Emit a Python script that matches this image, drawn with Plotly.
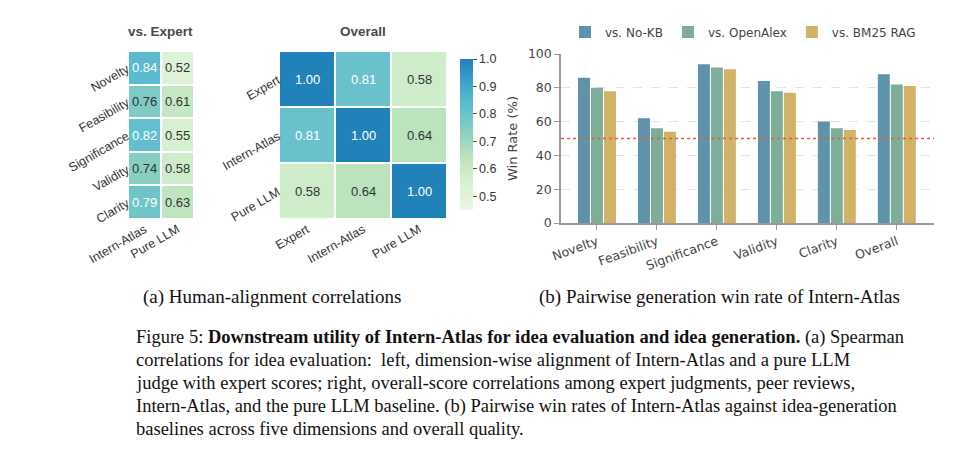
import plotly.graph_objects as go

# ---- data ----
dims = ["Novelty", "Feasibility", "Significance", "Validity", "Clarity"]
judges = ["Intern-Atlas", "Pure LLM"]
atlas_vs_expert = [0.84, 0.76, 0.82, 0.74, 0.79]
llm_vs_expert = [0.52, 0.61, 0.55, 0.58, 0.63]

raters = ["Expert", "Intern-Atlas", "Pure LLM"]
overall_corr = [
    [1.00, 0.81, 0.58],
    [0.81, 1.00, 0.64],
    [0.58, 0.64, 1.00],
]

bar_cats = ["Novelty", "Feasibility", "Significance", "Validity", "Clarity", "Overall"]
win_nokb = [86, 62, 94, 84, 60, 88]
win_openalex = [80, 56, 92, 78, 56, 82]
win_bm25 = [78, 54, 91, 77, 55, 81]
tie_level = 50

# page body has an 8px margin, so the figure is a bit smaller and offset
OFF = 8
W, H = 977 - OFF, 450 - OFF

def px_x(p):
    return (p - OFF) / W

def px_y(p):
    return 1 - (p - OFF) / H

sans = "Liberation Sans, Arial, sans-serif"
mpl = "DejaVu Sans, sans-serif"
serif = "Liberation Serif, Times New Roman, serif"

scale = [
    [0.0, "#ebf7e6"],
    [0.2, "#d5efce"],
    [0.36, "#b8e2bc"],
    [0.55, "#80ccc3"],
    [0.7, "#5dbccf"],
    [0.85, "#3ca2c9"],
    [1.0, "#2181b9"],
]

fig = go.Figure()

# left heatmap: dimension-wise alignment with experts
z_left = [[a, b] for a, b in zip(atlas_vs_expert, llm_vs_expert)]
fig.add_trace(go.Heatmap(z=z_left, x=judges, y=dims, coloraxis="coloraxis",
                         xgap=2, ygap=2, hoverinfo="skip", xaxis="x", yaxis="y"))

# overall correlation matrix
fig.add_trace(go.Heatmap(z=overall_corr, x=raters, y=raters, coloraxis="coloraxis",
                         xgap=2, ygap=2, hoverinfo="skip", xaxis="x2", yaxis="y2"))

# cell value labels
for i, d in enumerate(dims):
    for j, jn in enumerate(judges):
        v = z_left[i][j]
        fig.add_annotation(x=jn, y=d, xref="x", yref="y", text=f"{v:.2f}", showarrow=False,
                           font=dict(family=sans, size=13, color="white" if v >= 0.78 else "#333333"))
for i, r in enumerate(raters):
    for j, c in enumerate(raters):
        v = overall_corr[i][j]
        fig.add_annotation(x=c, y=r, xref="x2", yref="y2", text=f"{v:.2f}", showarrow=False,
                           font=dict(family=sans, size=13, color="white" if v >= 0.78 else "#333333"))

# win-rate bars
bar_colors = ["#5f93ab", "#7eae98", "#d2b267"]
for name, vals, col in zip(["vs. No-KB", "vs. OpenAlex", "vs. BM25 RAG"],
                           [win_nokb, win_openalex, win_bm25], bar_colors):
    fig.add_trace(go.Bar(x=bar_cats, y=vals, name=name, marker_color=col,
                         marker_line_width=0, xaxis="x3", yaxis="y3"))

fig.add_shape(type="line", xref="x3 domain", yref="y3", x0=0, x1=1, y0=tie_level, y1=tie_level,
              line=dict(color="#d9603b", width=1.6, dash="dot"))

hm_tick = dict(family=sans, size=12.5, color="#333333")
fig.update_layout(
    width=W, height=H,
    margin=dict(l=0, r=0, t=0, b=0, autoexpand=False),
    paper_bgcolor="white", plot_bgcolor="white",
    showlegend=True,
    barmode="group", bargap=0.35, bargroupgap=0.08,
    coloraxis=dict(
        colorscale=scale, cmin=0.45, cmax=1.0,
        colorbar=dict(x=px_x(450), xanchor="left", y=px_y(134.5), yanchor="middle",
                      len=171, lenmode="pixels", thickness=13, outlinewidth=0,
                      tickvals=[0.5, 0.6, 0.7, 0.8, 0.9, 1.0], ticktext=["0.5", "0.6", "0.7", "0.8", "0.9", "1.0"],
                      ticks="outside", ticklen=4, tickcolor="#555555",
                      tickfont=hm_tick),
    ),
    xaxis=dict(domain=[px_x(128), px_x(194)], anchor="y", tickangle=-30, tickfont=hm_tick,
               showgrid=False, zeroline=False, ticks="", automargin=False),
    yaxis=dict(domain=[px_y(219), px_y(51)], anchor="x", autorange="reversed", tickangle=-30,
               tickfont=hm_tick, showgrid=False, zeroline=False, ticks="", automargin=False),
    xaxis2=dict(domain=[px_x(279), px_x(447)], anchor="y2", tickangle=-30, tickfont=hm_tick,
                showgrid=False, zeroline=False, ticks="", automargin=False),
    yaxis2=dict(domain=[px_y(219), px_y(51)], anchor="x2", autorange="reversed", tickangle=-30,
                tickfont=hm_tick, showgrid=False, zeroline=False, ticks="", automargin=False),
    xaxis3=dict(domain=[px_x(561), px_x(934)], anchor="y3", range=[-0.6, 5.62], tickangle=-20,
                tickfont=dict(family=mpl, size=12.5, color="#444444"),
                showline=True, linecolor="#9a9a9a", linewidth=1.5,
                ticks="outside", ticklen=5, tickcolor="#9a9a9a", showgrid=False, automargin=False),
    yaxis3=dict(domain=[px_y(223), px_y(54)], anchor="x3", range=[0, 100],
                tickvals=[0, 20, 40, 60, 80, 100],
                tickfont=dict(family=mpl, size=12.5, color="#444444"),
                title=dict(text="Win Rate (%)", font=dict(family=mpl, size=13, color="#444444"), standoff=7),
                showline=True, linecolor="#9a9a9a", linewidth=1.5,
                ticks="outside", ticklen=5, tickcolor="#9a9a9a",
                showgrid=True, gridcolor="#e4e4e4", griddash="dash", zeroline=False, automargin=False),
    legend=dict(orientation="h", x=px_x(565), xanchor="left", y=px_y(32), yanchor="middle",
                font=dict(family=mpl, size=12, color="#444444"), bgcolor="rgba(0,0,0,0)"),
)

# panel titles
fig.add_annotation(x=px_x(160.5), y=px_y(31), xref="paper", yref="paper", text="<b>vs. Expert</b>",
                   xanchor="center", yanchor="middle", showarrow=False,
                   font=dict(family=sans, size=13.5, color="#4a4a4a"))
fig.add_annotation(x=px_x(363), y=px_y(31), xref="paper", yref="paper", text="<b>Overall</b>",
                   xanchor="center", yanchor="middle", showarrow=False,
                   font=dict(family=sans, size=13.5, color="#4a4a4a"))

# sub-captions
fig.add_annotation(x=px_x(272), y=px_y(297), xref="paper", yref="paper",
                   xanchor="center", yanchor="middle",
                   text="(a) Human-alignment correlations", showarrow=False,
                   font=dict(family=serif, size=19, color="#111111"))
fig.add_annotation(x=px_x(719), y=px_y(297), xref="paper", yref="paper",
                   xanchor="center", yanchor="middle",
                   text="(b) Pairwise generation win rate of Intern-Atlas", showarrow=False,
                   font=dict(family=serif, size=19, color="#111111"))

caption_lines = [
    "Figure 5: <b>Downstream utility of Intern-Atlas for idea evaluation and idea generation.</b> (a) Spearman",
    "correlations for idea evaluation:  left, dimension-wise alignment of Intern-Atlas and a pure LLM",
    "judge with expert scores; right, overall-score correlations among expert judgments, peer reviews,",
    "Intern-Atlas, and the pure LLM baseline. (b) Pairwise win rates of Intern-Atlas against idea-generation",
    "baselines across five dimensions and overall quality.",
]
for k, line in enumerate(caption_lines):
    fig.add_annotation(x=px_x(134), y=px_y(337 + 23 * k), xref="paper", yref="paper",
                       xanchor="left", yanchor="middle", text=line, showarrow=False,
                       font=dict(family=serif, size=18.5, color="#111111"))

fig.write_html("out.html")
